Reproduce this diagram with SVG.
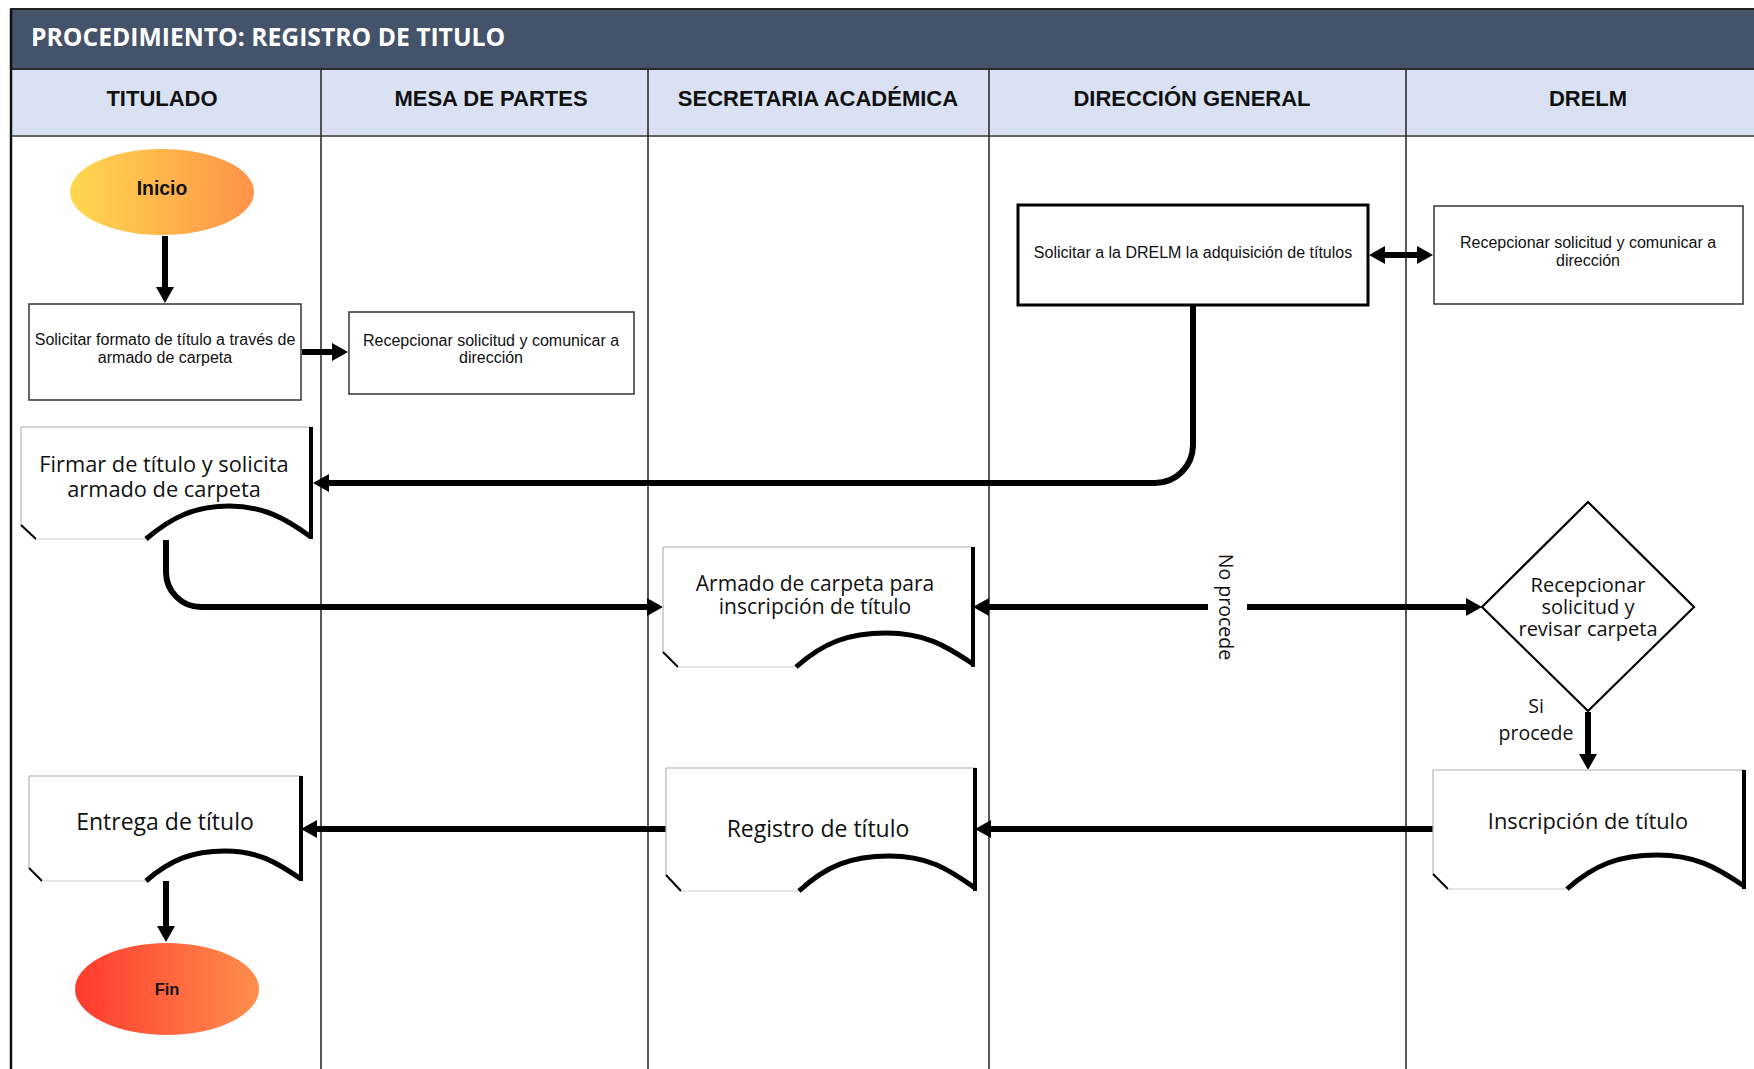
<svg xmlns="http://www.w3.org/2000/svg" width="1754" height="1069" viewBox="0 0 1754 1069">
  <defs>
    <linearGradient id="gStart" x1="0" y1="0" x2="1" y2="0">
      <stop offset="0" stop-color="#ffd84f"/>
      <stop offset="1" stop-color="#ff9248"/>
    </linearGradient>
    <linearGradient id="gEnd" x1="0" y1="0" x2="1" y2="0">
      <stop offset="0" stop-color="#ff3a2e"/>
      <stop offset="1" stop-color="#ff8f4c"/>
    </linearGradient>
    <marker id="arr" viewBox="0 0 16 18" refX="4" refY="9" markerWidth="16" markerHeight="18" markerUnits="userSpaceOnUse" orient="auto-start-reverse">
      <path d="M0,0 L16,9 L0,18 Z" fill="#000"/>
    </marker>
    <style>
      .title { font-family: "Open Sans", "DejaVu Sans", sans-serif; font-weight: 700; font-size: 24.7px; fill: #ffffff; }
      .lane { font-family: "Liberation Sans", Arial, sans-serif; font-weight: 700; font-size: 22px; fill: #111; text-anchor: middle; }
      .divider { stroke: #222; stroke-width: 1.5; }
      .box { fill: #fff; stroke: #333; stroke-width: 1.5; }
      .boxb { fill: #fff; stroke: #000; stroke-width: 3; }
      .small { font-family: "Liberation Sans", Arial, sans-serif; font-size: 16px; fill: #111; text-anchor: middle; }
      .doc { font-family: "Open Sans", "DejaVu Sans", sans-serif; font-size: 21.8px; fill: #111; text-anchor: middle; }
      .doc.mid { font-size: 21px; }
      .doc.big { font-size: 23px; }
      .lbl { font-family: "Open Sans", "DejaVu Sans", sans-serif; font-size: 19.5px; fill: #111; text-anchor: middle; }
      .lbl.dec { font-size: 20px; }
      .term { font-family: "Liberation Sans", Arial, sans-serif; font-weight: 700; fill: #111; text-anchor: middle; }
      .dtop { stroke: #c9c9c9; stroke-width: 1.5; }
      .dleft { stroke: #b5b5b5; stroke-width: 1.2; }
      .ddiag { stroke: #000; stroke-width: 2; }
      .dbot { stroke: #dcdcdc; stroke-width: 1.5; }
      .dwave { fill: none; stroke: #000; stroke-width: 5; }
      .dright { stroke: #000; stroke-width: 4; }
      .conn { fill: none; stroke: #000; stroke-width: 6; }
    </style>
  </defs>

  <rect width="1754" height="1069" fill="#ffffff"/>

  <!-- frame, title band and lane headers -->
  <g id="frame">
    <rect x="11" y="9" width="1760" height="60" fill="#44536a" stroke="#222" stroke-width="2"/>
    <text class="title" x="31" y="46">PROCEDIMIENTO: REGISTRO DE TITULO</text>
    <rect x="11" y="69" width="1760" height="67" fill="#d9e1f2"/>
    <line x1="11" y1="69" x2="1754" y2="69" stroke="#2a2a2a" stroke-width="2"/>
    <line x1="11" y1="136" x2="1754" y2="136" stroke="#666" stroke-width="2"/>
    <line x1="11" y1="9" x2="11" y2="1069" stroke="#111" stroke-width="2.5"/>
    <line class="divider" x1="321" y1="69" x2="321" y2="1069"/>
    <line class="divider" x1="648" y1="69" x2="648" y2="1069"/>
    <line class="divider" x1="989" y1="69" x2="989" y2="1069"/>
    <line class="divider" x1="1406" y1="69" x2="1406" y2="1069"/>
    <text class="lane" x="162" y="106">TITULADO</text>
    <text class="lane" x="491" y="106">MESA DE PARTES</text>
    <text class="lane" x="818" y="106">SECRETARIA ACADÉMICA</text>
    <text class="lane" x="1192" y="106">DIRECCIÓN GENERAL</text>
    <text class="lane" x="1588" y="106">DRELM</text>
  </g>

  <!-- connectors -->
  <g id="connectors">
    <path class="conn" d="M165,236 V291" marker-end="url(#arr)"/>
    <path class="conn" d="M302,352 H336" marker-end="url(#arr)"/>
    <path class="conn" d="M1381,255 H1421" marker-start="url(#arr)" marker-end="url(#arr)"/>
    <path class="conn" d="M1193,306 V445 A38,38 0 0 1 1155,483 H325" marker-end="url(#arr)"/>
    <path class="conn" d="M166,540 V572 A35,35 0 0 0 201,607 H651" marker-end="url(#arr)"/>
    <path class="conn" d="M1247,607 H1470" marker-end="url(#arr)"/>
    <path class="conn" d="M1208,607 H985" marker-end="url(#arr)"/>
    <text class="lbl" x="1226" y="607" dominant-baseline="central" transform="rotate(90 1226 607)">No procede</text>
    <path class="conn" d="M1588,712 V758" marker-end="url(#arr)"/>
    <text class="lbl" x="1536" y="713">Si</text>
    <text class="lbl" x="1536" y="740">procede</text>
    <path class="conn" d="M1433,829 H987" marker-end="url(#arr)"/>
    <path class="conn" d="M666,829 H313" marker-end="url(#arr)"/>
    <path class="conn" d="M166,873 V930" marker-end="url(#arr)"/>
  </g>

  <!-- start -->
  <g id="inicio">
    <ellipse cx="162" cy="192" rx="92" ry="43" fill="url(#gStart)"/>
    <text class="term" x="162" y="195" font-size="19.4">Inicio</text>
  </g>

  <g id="solicitar-formato">
    <rect class="box" x="29" y="304" width="272" height="96"/>
    <text class="small" x="165" y="345">Solicitar formato de título a través de</text>
    <text class="small" x="165" y="363">armado de carpeta</text>
  </g>

  <g id="recepcionar-mesa">
    <rect class="box" x="349" y="312" width="285" height="82"/>
    <text class="small" x="491" y="346">Recepcionar solicitud y comunicar a</text>
    <text class="small" x="491" y="363">dirección</text>
  </g>

  <g id="solicitar-drelm">
    <rect class="boxb" x="1018" y="205" width="350" height="100"/>
    <text class="small" x="1193" y="258">Solicitar a la DRELM la adquisición de títulos</text>
  </g>

  <g id="recepcionar-drelm">
    <rect class="box" x="1434" y="206" width="309" height="98"/>
    <text class="small" x="1588" y="248">Recepcionar solicitud y comunicar a</text>
    <text class="small" x="1588" y="266">dirección</text>
  </g>

  <!-- document shapes -->
  <g id="firmar">
    <path d="M21,427 H311 V539 H21 Z" fill="#fff"/>
    <line class="dtop" x1="21" y1="427" x2="311" y2="427"/>
    <line class="dleft" x1="21" y1="427" x2="21" y2="525"/>
    <line class="ddiag" x1="21" y1="525" x2="36" y2="539"/>
    <line class="dbot" x1="36" y1="539" x2="146" y2="539"/>
    <path class="dwave" d="M146,539 C172,517 195,506 229,506 S285,518 311,537"/>
    <line class="dright" x1="311" y1="427" x2="311" y2="539"/>
    <text class="doc" x="164" y="472">Firmar de título y solicita</text>
    <text class="doc" x="164" y="497">armado de carpeta</text>
  </g>

  <g id="armado">
    <path d="M663,547 H973 V667 H663 Z" fill="#fff"/>
    <line class="dtop" x1="663" y1="547" x2="973" y2="547"/>
    <line class="dleft" x1="663" y1="547" x2="663" y2="652"/>
    <line class="ddiag" x1="663" y1="652" x2="678" y2="667"/>
    <line class="dbot" x1="678" y1="667" x2="796" y2="667"/>
    <path class="dwave" d="M796,667 C823,643 848,633 886,633 S945,645 973,664"/>
    <line class="dright" x1="973" y1="547" x2="973" y2="667"/>
    <text class="doc mid" x="815" y="591">Armado de carpeta para</text>
    <text class="doc mid" x="815" y="614">inscripción de título</text>
  </g>

  <g id="revisar">
    <polygon points="1588,502 1694,607 1588,711 1482,607" fill="#fff" stroke="#000" stroke-width="2.2"/>
    <text class="lbl dec" x="1588" y="592">Recepcionar</text>
    <text class="lbl dec" x="1588" y="614">solicitud y</text>
    <text class="lbl dec" x="1588" y="636">revisar carpeta</text>
  </g>

  <g id="inscripcion">
    <path d="M1433,770 H1744 V889 H1433 Z" fill="#fff"/>
    <line class="dtop" x1="1433" y1="770" x2="1744" y2="770"/>
    <line class="dleft" x1="1433" y1="770" x2="1433" y2="874"/>
    <line class="ddiag" x1="1433" y1="874" x2="1448" y2="889"/>
    <line class="dbot" x1="1448" y1="889" x2="1567" y2="889"/>
    <path class="dwave" d="M1567,889 C1594,865 1619,855 1657,855 S1716,867 1744,886"/>
    <line class="dright" x1="1744" y1="770" x2="1744" y2="889"/>
    <text class="doc" x="1588" y="829">Inscripción de título</text>
  </g>

  <g id="registro">
    <path d="M666,768 H975 V891 H666 Z" fill="#fff"/>
    <line class="dtop" x1="666" y1="768" x2="975" y2="768"/>
    <line class="dleft" x1="666" y1="768" x2="666" y2="875"/>
    <line class="ddiag" x1="666" y1="875" x2="681" y2="891"/>
    <line class="dbot" x1="681" y1="891" x2="799" y2="891"/>
    <path class="dwave" d="M799,891 C826,866 851,856 889,856 S947,868 975,888"/>
    <line class="dright" x1="975" y1="768" x2="975" y2="891"/>
    <text class="doc big" x="818" y="837">Registro de título</text>
  </g>

  <g id="entrega">
    <path d="M29,776 H301 V881 H29 Z" fill="#fff"/>
    <line class="dtop" x1="29" y1="776" x2="301" y2="776"/>
    <line class="dleft" x1="29" y1="776" x2="29" y2="868"/>
    <line class="ddiag" x1="29" y1="868" x2="42" y2="881"/>
    <line class="dbot" x1="42" y1="881" x2="146" y2="881"/>
    <path class="dwave" d="M146,881 C170,860 192,851 225,851 S276,862 301,879"/>
    <line class="dright" x1="301" y1="776" x2="301" y2="881"/>
    <text class="doc big" x="165" y="830">Entrega de título</text>
  </g>

  <!-- end -->
  <g id="fin">
    <ellipse cx="167" cy="989" rx="92" ry="46" fill="url(#gEnd)"/>
    <text class="term" x="167" y="995" font-size="16.5">Fin</text>
  </g>
</svg>
